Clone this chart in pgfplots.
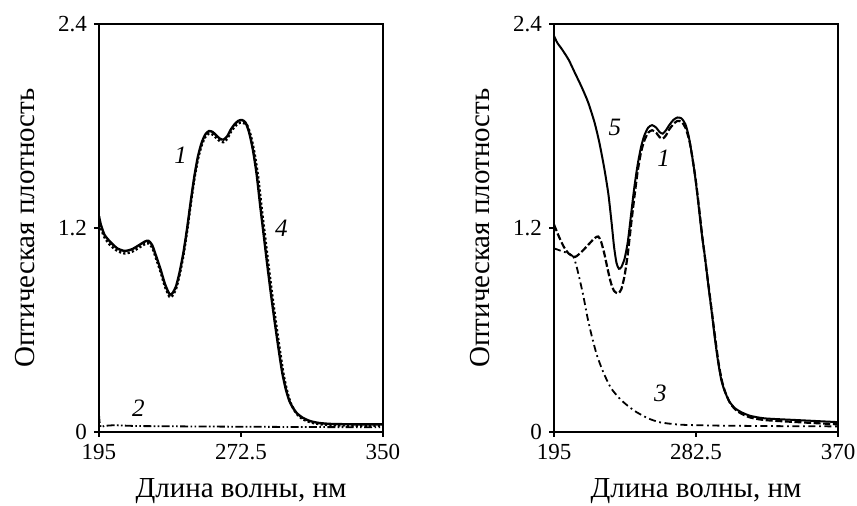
\documentclass[border=0pt]{standalone}
\usepackage{pgfplots}
\pgfplotsset{compat=1.18}
\usepackage{fontspec}
\setmainfont{Liberation Serif}

\pgfplotsset{
  spec/.style={
    width=142pt, height=204pt, scale only axis,
    ymin=0, ymax=2.4,
    ytick={0,1.2,2.4}, yticklabels={0,1.2,2.4},
    tick align=outside, major tick length=2.5pt, tick pos=left,
    axis line style={line width=0.8pt}, tick style={line width=0.8pt, black},
    ticklabel style={font=\fontsize{11.5}{13}\selectfont},
    xlabel={Длина волны, нм}, ylabel={Оптическая плотность},
    every axis y label/.style={at={(axis description cs:-0.26,0.5)}, rotate=90, anchor=center,
        font=\fontsize{14.5}{17}\selectfont},
    every axis x label/.style={at={(axis description cs:0.5,-0.145)}, anchor=center,
        font=\fontsize{14.5}{17}\selectfont},
    every axis plot/.append style={no marks, black, smooth, tension=0.4},
  },
}
\tikzset{lbl/.style={font=\fontsize{12.5}{15}\selectfont\itshape}}

\begin{document}
\begin{tikzpicture}
\path[use as bounding box] (-49.5pt,-37pt) rectangle (379pt,216pt);

% left panel
\begin{axis}[spec, at={(0,0)}, xmin=195, xmax=350,
    xtick={195,272.5,350}, xticklabels={195,272.5,350}]
% curve 1, solid
\addplot[line width=1.2pt] coordinates {
 (195,1.27)(196,1.22)(198,1.16)(201,1.12)(205,1.08)(209,1.065)(213,1.075)
 (217,1.10)(220,1.12)(222,1.125)(224,1.10)(226,1.04)(228.5,0.96)(231,0.87)
 (233.5,0.81)(235,0.815)(237,0.855)(239,0.94)(241,1.05)(243,1.19)(245,1.35)
 (247,1.50)(249,1.62)(251,1.70)(253,1.75)(255,1.77)(257,1.765)(259,1.745)
 (261,1.725)(263,1.72)(265,1.74)(267,1.78)(269,1.81)(271,1.83)(273,1.835)
 (275,1.82)(277,1.76)(279,1.66)(281,1.52)(283,1.33)(285,1.15)(287,0.97)
 (289,0.80)(291,0.64)(293,0.49)(295,0.35)(297,0.25)(299,0.18)(301,0.14)
 (303,0.11)(306,0.085)(310,0.065)(315,0.053)(322,0.047)(335,0.045)(350,0.045)};
% curve 4, dotted
\addplot[line width=1.2pt, dash pattern=on 1.1pt off 1.1pt] coordinates {
 (195,1.25)(196,1.20)(198,1.145)(201,1.10)(205,1.065)(209,1.05)(213,1.06)
 (217,1.085)(220,1.105)(222,1.11)(224,1.085)(226,1.025)(228.5,0.945)(231,0.855)
 (233.5,0.795)(235,0.80)(237,0.84)(239,0.925)(241,1.035)(243,1.175)(245,1.335)
 (247,1.485)(249,1.605)(251,1.685)(253,1.735)(255,1.755)(257,1.75)(259,1.73)
 (261,1.71)(263,1.705)(265,1.725)(267,1.765)(269,1.795)(271,1.815)(273,1.82)
 (275.8,1.805)(277.8,1.745)(279.8,1.645)(281.8,1.505)(283.8,1.315)(285.8,1.135)
 (287.8,0.955)(289.8,0.785)(291.8,0.625)(293.8,0.475)(295.8,0.335)(297.8,0.235)
 (299.8,0.165)(301.8,0.125)(303.8,0.095)(306.8,0.072)(311,0.055)(316,0.045)
 (323,0.04)(335,0.037)(350,0.037)};
% curve 2, dash-dot-dot
\addplot[line width=0.9pt, sharp plot,
    dash pattern=on 4pt off 1.2pt on 0.8pt off 1.2pt on 0.8pt off 1.2pt] coordinates {
 (195,0.10)(195.4,0.05)(196,0.028)(198,0.036)(203,0.04)(208,0.038)(215,0.035)
 (240,0.033)(272,0.031)(310,0.029)(350,0.028)};
\node[lbl] at (axis cs:239.5,1.63) {1};
\node[lbl] at (axis cs:294.5,1.2) {4};
\node[lbl] at (axis cs:216.5,0.14) {2};
\end{axis}

% right panel
\begin{axis}[spec, at={(227.5pt,0)}, xmin=195, xmax=370,
    xtick={195,282.5,370}, xticklabels={195,282.5,370}]
% curve 5, solid
\addplot[line width=1pt] coordinates {
 (195,2.33)(197,2.29)(200,2.25)(204,2.19)(208,2.11)(212,2.03)(216,1.94)
 (220,1.82)(223,1.70)(226,1.55)(228.5,1.40)(230.5,1.23)(232,1.09)(233.5,0.995)
 (235,0.96)(236.5,0.97)(238.5,1.02)(240.5,1.12)(242.5,1.28)(244.5,1.44)
 (246.5,1.57)(248.5,1.67)(250.5,1.74)(253,1.79)(255.5,1.805)(258,1.79)
 (260,1.765)(262,1.755)(264,1.775)(266,1.805)(268.5,1.835)(271,1.85)
 (273.5,1.845)(276,1.81)(278,1.74)(280,1.63)(282,1.50)(284,1.34)(286,1.17)
 (288,1.03)(290,0.87)(292,0.72)(294,0.56)(296,0.42)(298,0.31)(300,0.245)
 (303,0.18)(306.5,0.14)(310.5,0.116)(316,0.095)(325,0.08)(345,0.07)(370,0.058)};
% curve 1, dashed
\addplot[line width=1.1pt, dash pattern=on 3.5pt off 1.3pt] coordinates {
 (195,1.22)(198,1.15)(201,1.09)(204,1.05)(208,1.03)(212,1.06)(216,1.10)
 (220,1.14)(222.3,1.15)(224,1.12)(226,1.05)(228,0.96)(230,0.88)(232,0.83)
 (234.5,0.815)(236.5,0.84)(238.5,0.92)(240.5,1.05)(242.5,1.22)(244.5,1.38)
 (246.5,1.53)(248.5,1.64)(250.5,1.71)(253,1.76)(255.5,1.775)(258,1.76)
 (260,1.735)(262,1.725)(264,1.745)(266,1.78)(268.5,1.81)(271,1.83)
 (273.5,1.825)(276,1.79)(278.5,1.71)(280.5,1.60)(282.5,1.47)(284.5,1.31)
 (286.5,1.14)(288.5,0.99)(290.5,0.84)(292.5,0.69)(294.5,0.54)(296.5,0.40)
 (298.5,0.30)(300.5,0.235)(303.5,0.17)(307,0.13)(311,0.105)(316,0.085)
 (325,0.07)(345,0.058)(370,0.045)};
% curve 3, dash-dot
\addplot[line width=0.9pt, dash pattern=on 3.5pt off 1.8pt on 0.9pt off 1.8pt] coordinates {
 (195,1.08)(198,1.07)(201,1.06)(204,1.05)(207,1.03)(209,0.97)(211,0.89)
 (213.1,0.80)(215.5,0.68)(218.2,0.567)(221.5,0.45)(225.4,0.351)(230,0.26)
 (235.7,0.194)(241,0.15)(246,0.116)(253,0.08)(260.3,0.057)(270,0.045)
 (278,0.041)(300,0.037)(340,0.034)(370,0.033)};
\node[lbl] at (axis cs:232.5,1.79) {5};
\node[lbl] at (axis cs:262.5,1.61) {1};
\node[lbl] at (axis cs:260.5,0.23) {3};
\end{axis}
\end{tikzpicture}
\end{document}
